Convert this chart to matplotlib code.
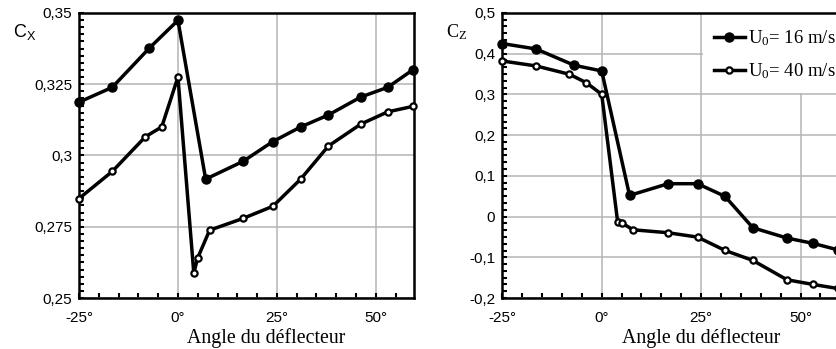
import matplotlib
matplotlib.use('Agg')
import matplotlib.pyplot as plt
from matplotlib.patches import Rectangle
from matplotlib.ticker import FixedLocator, MultipleLocator, FuncFormatter

# Drag coefficient C_X vs deflector angle
cx_16_angle = [-25, -16.6, -7.2, 0, 7, 16.4, 24, 31, 38, 46.2, 53, 59.3]
cx_16 = [0.3187, 0.3239, 0.3377, 0.3474, 0.2917, 0.2979, 0.3049, 0.3100,
         0.3142, 0.3205, 0.3239, 0.3300]
cx_40_angle = [-25, -16.6, -8.2, -4.1, 0, 4, 5, 8, 16.4, 24, 31, 38, 46.2, 53, 59.3]
cx_40 = [0.2849, 0.2944, 0.3066, 0.3100, 0.3275, 0.2588, 0.2641, 0.2738,
         0.2779, 0.2822, 0.2917, 0.3033, 0.3110, 0.3153, 0.3172]

# Lift coefficient C_Z vs deflector angle
cz_16_angle = [-25, -16.5, -6.9, 0, 7, 16.7, 24.1, 31, 38, 46.6, 53.2, 59.3]
cz_16 = [0.4247, 0.4115, 0.3714, 0.3575, 0.052, 0.0807, 0.0807, 0.0496,
         -0.0274, -0.0528, -0.0659, -0.0815]
cz_40_angle = [-25, -16.5, -8.1, -3.9, 0, 4, 5.1, 7.9, 16.7, 24.1, 31, 38, 46.6, 53.2, 59.3]
cz_40 = [0.382, 0.3698, 0.3493, 0.3288, 0.3002, -0.0127, -0.016, -0.0324,
         -0.0397, -0.0504, -0.0831, -0.1077, -0.1552, -0.1667, -0.1765]

x_ticks = [-25, 0, 25, 50]
x_tick_labels = ['-25°', '0°', '25°', '50°']
cx_ticks = [0.25, 0.275, 0.3, 0.325, 0.35]
cz_ticks = [-0.2, -0.1, 0, 0.1, 0.2, 0.3, 0.4, 0.5]
legend_labels = [r'$\mathregular{U_0}$= 16 m/s', r'$\mathregular{U_0}$= 40 m/s']

SANS = 'Liberation Sans'
SERIF = 'Liberation Serif'
GRID = '#b4b4b4'


def comma(v, pos):
    s = ('%.3f' % v).rstrip('0').rstrip('.')
    if s == '-0':
        s = '0'
    return s.replace('.', ',')


def style_axes(ax, yticks, yminor):
    ax.set_xlim(-25, 59.7)
    ax.set_axisbelow(True)
    ax.xaxis.set_major_locator(FixedLocator(x_ticks))
    ax.set_xticklabels(x_tick_labels, fontfamily=SANS, fontsize=11)
    ax.xaxis.set_minor_locator(MultipleLocator(5))
    ax.yaxis.set_major_locator(FixedLocator(yticks))
    ax.yaxis.set_minor_locator(MultipleLocator(yminor))
    ax.yaxis.set_major_formatter(FuncFormatter(comma))
    for lab in ax.get_yticklabels():
        lab.set_fontfamily(SANS)
        lab.set_fontsize(11)
    ax.tick_params(which='both', direction='in', top=False, right=False,
                   length=3.5, width=1.5, color='black')
    ax.tick_params(axis='x', which='major', pad=9)
    ax.tick_params(axis='y', which='major', pad=5)
    for sp in ax.spines.values():
        sp.set_linewidth(1.8)
    ax.grid(True, which='major', color=GRID, linewidth=1.1)


def plot_pair(ax, xa, ya, xb, yb):
    ax.plot(xa, ya, color='black', linewidth=2.5, marker='o', markersize=6.5,
            markerfacecolor='black', zorder=3, clip_on=False)
    ax.plot(xb, yb, color='black', linewidth=2.5, marker='o', markersize=4.5,
            markerfacecolor='white', markeredgewidth=1.6, zorder=3, clip_on=False)


fig = plt.figure(figsize=(8.36, 3.49), dpi=100)
ax1 = fig.add_axes([0.0945, 0.146, 0.401, 0.817])
ax2 = fig.add_axes([0.6008, 0.146, 0.403, 0.817])

# Left: C_X
plot_pair(ax1, cx_16_angle, cx_16, cx_40_angle, cx_40)
ax1.set_ylim(0.25, 0.35)
style_axes(ax1, cx_ticks, 0.0025)
fig.text(0.015, 0.893, r'$\mathregular{C_X}$', fontfamily=SANS, fontsize=13)
ax1.text(22.3, -0.14, 'Angle du déflecteur', transform=ax1.get_xaxis_transform(),
         ha='center', va='center', fontfamily=SERIF, fontsize=14.3)

# Right: C_Z
plot_pair(ax2, cz_16_angle, cz_16, cz_40_angle, cz_40)
ax2.set_ylim(-0.2, 0.5)
style_axes(ax2, cz_ticks, 0.1 / 6)
fig.text(0.533, 0.893, r'$\mathregular{C_Z}$', fontfamily=SERIF, fontsize=13)
ax2.text(25, -0.14, 'Angle du déflecteur', transform=ax2.get_xaxis_transform(),
         ha='center', va='center', fontfamily=SERIF, fontsize=14.3)

# white patch behind the legend hides the grid there
ax2.add_patch(Rectangle((25.4, 0.303), 40, 0.2, facecolor='white',
                        edgecolor='none', zorder=1))
leg = ax2.legend(ax2.get_lines(), legend_labels, loc='upper left',
                 bbox_to_anchor=(0.605, 0.973), frameon=False,
                 prop={'family': SERIF, 'size': 13.5}, handlelength=1.65,
                 handletextpad=0.2, labelspacing=0.72, borderaxespad=0)

fig.savefig('out.png', dpi=100)
